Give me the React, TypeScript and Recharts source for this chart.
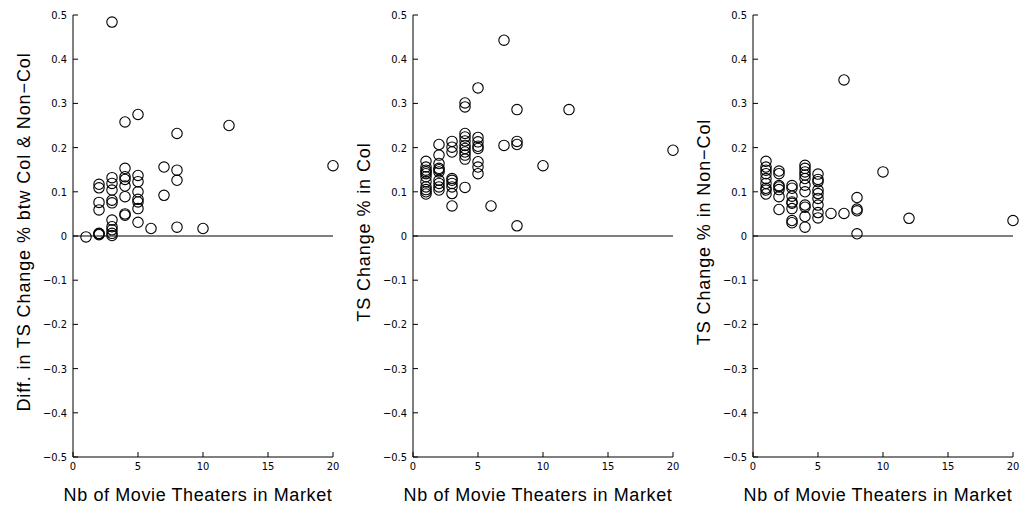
import React from 'react';
import {
    ScatterChart, Scatter, XAxis, YAxis, ReferenceLine, Label,
} from 'recharts';

// number of movie theaters in the market (x positions shared by all three panels)
const theaterCounts = [1, 2, 3, 4, 5, 6, 7, 8, 10, 12, 20];

// TS change values per market, grouped by theater count
const diffValues = [
    [-0.002],
    [0.003, 0.006, 0.005, 0.059, 0.076, 0.109, 0.117],
    [0.001, 0.006, 0.014, 0.021, 0.036, 0.075, 0.081, 0.104, 0.119, 0.132, 0.484],
    [0.047, 0.050, 0.089, 0.113, 0.128, 0.134, 0.153, 0.258],
    [0.031, 0.062, 0.077, 0.083, 0.100, 0.123, 0.137, 0.275],
    [0.017],
    [0.092, 0.156],
    [0.020, 0.126, 0.149, 0.232],
    [0.017],
    [0.250],
    [0.159],
];

const colValues = [
    [0.095, 0.100, 0.105, 0.111, 0.123, 0.134, 0.141, 0.145, 0.149, 0.156, 0.169],
    [0.104, 0.111, 0.119, 0.126, 0.145, 0.150, 0.153, 0.164, 0.183, 0.207],
    [0.068, 0.096, 0.111, 0.119, 0.126, 0.130, 0.190, 0.201, 0.214],
    [0.110, 0.174, 0.183, 0.190, 0.198, 0.205, 0.215, 0.224, 0.232, 0.292, 0.301],
    [0.141, 0.156, 0.168, 0.198, 0.203, 0.213, 0.223, 0.335],
    [0.068],
    [0.205, 0.443],
    [0.023, 0.207, 0.214, 0.286],
    [0.159],
    [0.286],
    [0.194],
];

const nonColValues = [
    [0.095, 0.104, 0.108, 0.119, 0.130, 0.141, 0.149, 0.156, 0.169],
    [0.060, 0.089, 0.105, 0.111, 0.114, 0.141, 0.147],
    [0.030, 0.035, 0.062, 0.074, 0.077, 0.090, 0.108, 0.114],
    [0.020, 0.044, 0.065, 0.070, 0.100, 0.115, 0.130, 0.138, 0.145, 0.153, 0.160],
    [0.041, 0.053, 0.070, 0.085, 0.096, 0.104, 0.123, 0.128, 0.140],
    [0.051],
    [0.051, 0.353],
    [0.005, 0.057, 0.061, 0.087],
    [0.145],
    [0.040],
    [0.035],
];

const xTicks = [0, 5, 10, 15, 20];
const yTicks = [-0.5, -0.4, -0.3, -0.2, -0.1, 0, 0.1, 0.2, 0.3, 0.4, 0.5];

const xTitle = 'Nb of Movie Theaters in Market';
const panels = [
    {title: 'Diff. in TS Change % btw Col & Non\u2212Col', values: diffValues},
    {title: 'TS Change % in Col', values: colValues},
    {title: 'TS Change % in Non\u2212Col', values: nonColValues},
];

const tickFont = '"Liberation Sans Narrow", "DejaVu Sans Condensed", sans-serif';
const labelFont = '"Liberation Sans", Arial, sans-serif';

function toPoints(values: number[][]) {
    const pts: { x: number; y: number }[] = [];
    theaterCounts.forEach((c, i) => {
        values[i].forEach(v => pts.push({x: c, y: v}));
    });
    return pts;
}

const fmtY = (v: number) => {
    const s = Math.abs(v) < 1e-9 ? '0' : Math.abs(v).toFixed(1);
    return v < -1e-9 ? '\u2212' + s : s;
};

const RingShape = (props: any) => {
    const {cx, cy} = props;
    return <circle cx={cx} cy={cy} r={5.2} fill="none" stroke="#000" strokeWidth={1.1}/>;
};

// axis titles drawn by hand so the rotated one stays centred on the plot
const XTitle = (props: any) => {
    const vb = props.viewBox;
    return (
        <text x={vb.x + vb.width / 2 - 5} y={vb.y + 44} textAnchor="middle"
              fill="#000" fontSize={18} letterSpacing={0.6} fontFamily={labelFont}>{xTitle}</text>
    );
};

const makeYTitle = (title: string) => (props: any) => {
    const vb = props.viewBox;
    const cx = vb.x + 19;
    const cy = vb.y + vb.height / 2 - 4;
    return (
        <text x={cx} y={cy} textAnchor="middle" dominantBaseline="central"
              transform={`rotate(-90, ${cx}, ${cy})`}
              fill="#000" fontSize={18} letterSpacing={0.9} fontFamily={labelFont}>{title}</text>
    );
};

function Panel(props: { title: string; values: number[][] }) {
    const {title, values} = props;
    const data = toPoints(values);
    return (
        <ScatterChart width={340}
                      height={510}
                      style={{overflow: 'visible'}}
                      margin={{top: 15, right: 7, left: 5, bottom: 3}}>
            <XAxis type="number"
                   dataKey="x"
                   domain={[0, 20]}
                   ticks={xTicks}
                   height={50}
                   tickSize={-5}
                   tickMargin={10}
                   stroke="#000"
                   tick={{fill: '#000', fontSize: 11, fontFamily: tickFont}}>
                <Label content={XTitle}/>
            </XAxis>
            <YAxis type="number"
                   dataKey="y"
                   domain={[-0.5, 0.5]}
                   ticks={yTicks}
                   width={68}
                   tickSize={-5}
                   tickMargin={11}
                   tickFormatter={fmtY}
                   stroke="#000"
                   tick={{fill: '#000', fontSize: 11, fontFamily: tickFont}}>
                <Label content={makeYTitle(title)}/>
            </YAxis>
            <ReferenceLine y={0} stroke="#000" strokeWidth={1}/>
            <Scatter data={data} shape={RingShape} isAnimationActive={false}/>
        </ScatterChart>
    );
}

export default function App() {
    return (
        <div style={{position: 'absolute', left: 0, top: 0, width: 1025, height: 510, background: '#fff', display: 'flex'}}>
            {panels.map(p => <Panel key={p.title} title={p.title} values={p.values}/>)}
        </div>
    );
}
